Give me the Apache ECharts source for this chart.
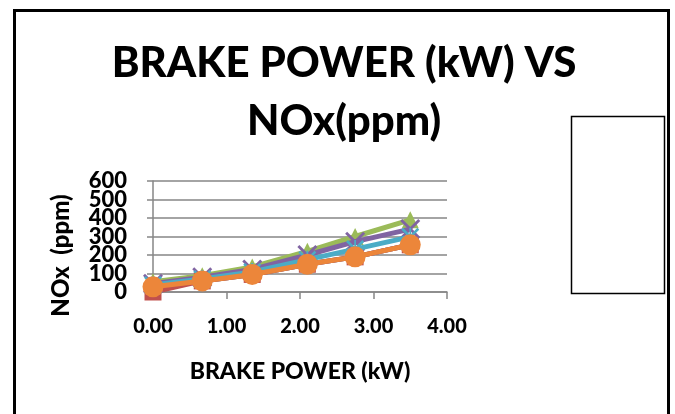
<!DOCTYPE html>
<html><head><meta charset="utf-8">
<script src="https://cdn.jsdelivr.net/npm/echarts@6/dist/echarts.min.js"></script>
<style>html,body{margin:0;padding:0;background:#fff}#c{width:675px;height:414px}</style>
</head><body><div id="c"></div>
<script>
const brakePower = [0, 0.67, 1.35, 2.1, 2.75, 3.5];
const seriesNames = ['S1', 'S2', 'S3', 'S4', 'S5', 'S6'];
const s1 = [28, 60, 95, 150, 190, 255];
const s2 = [0, 60, 95, 150, 190, 255];
const s3 = [55, 88, 135, 220, 300, 390];
const s4 = [45, 80, 122, 200, 272, 340];
const s5 = [38, 70, 108, 175, 232, 298];
const s6 = [28, 60, 95, 150, 190, 255];
const yTicks = [0, 100, 200, 300, 400, 500, 600];
const xTicks = [0, 1, 2, 3, 4];

const FONT = 'Lato';
const colors = ['#4F81BD', '#C0504D', '#9BBB59', '#8064A2', '#4BACC6', '#EC863A'];
const symbols = [
  'diamond', 'rect', 'triangle',
  'path://M2,0 L10,8 L18,0 L20,2 L12,10 L20,18 L18,20 L10,12 L2,20 L0,18 L8,10 L0,2 Z',
  'path://M2,0 L10,8 L18,0 L20,2 L12,10 L20,18 L18,20 L10,12 L2,20 L0,18 L8,10 L0,2 Z M9,0 L11,0 L11,20 L9,20 Z',
  'circle'
];
const sizes = [14, 17, 17, 20, 18, 21];
const allData = [s1, s2, s3, s4, s5, s6];

const yLabelStyle = {fontFamily: FONT, fontWeight: 900, fontSize: 22, color: '#000', margin: 26,
  showMinLabel: true, showMaxLabel: true};

const chart = echarts.init(document.getElementById('c'), null, {renderer: 'canvas'});
chart.setOption({
  animation: false,
  backgroundColor: '#fff',
  title: {
    text: 'BRAKE POWER (kW) VS\nNOx(ppm)',
    left: 339, top: 29, textAlign: 'center',
    textStyle: {fontFamily: FONT, fontWeight: 900, fontSize: 42, lineHeight: 58, color: '#000'}
  },
  grid: {left: 153, top: 181, width: 294, height: 111, containLabel: false},
  xAxis: {
    type: 'value', min: 0, max: 4, interval: 1,
    name: 'BRAKE POWER (kW)', nameLocation: 'middle', nameGap: 68,
    nameTextStyle: {fontFamily: FONT, fontWeight: 900, fontSize: 23, color: '#000'},
    axisLine: {show: true, lineStyle: {color: '#868686', width: 1.5}},
    axisTick: {show: true, inside: false, length: 7, lineStyle: {color: '#868686', width: 1.5}},
    splitLine: {show: false},
    axisLabel: {fontFamily: FONT, fontWeight: 900, fontSize: 20, color: '#000', margin: 25,
      formatter: v => v.toFixed(2)}
  },
  yAxis: [{
    type: 'value', min: 0, max: 600, interval: 100, position: 'left',
    name: 'NOx  (ppm)', nameLocation: 'middle', nameGap: 80, nameRotate: 90,
    nameTextStyle: {fontFamily: FONT, fontWeight: 900, fontSize: 24, color: '#000',
      padding: [0, 38, 0, 0]},
    axisLine: {show: true, lineStyle: {color: '#868686', width: 1.5}},
    axisTick: {show: true, inside: false, length: 6, lineStyle: {color: '#868686', width: 1.5}},
    splitLine: {show: true, lineStyle: {color: '#868686', width: 1.5}},
    axisLabel: Object.assign({}, yLabelStyle, {
      formatter: v => (yTicks.indexOf(v) % 2 === 0 ? String(v) : '')})
  }, {
    type: 'value', min: 0, max: 600, interval: 100, position: 'left', offset: 0,
    axisLine: {show: false}, axisTick: {show: false}, splitLine: {show: false},
    axisLabel: Object.assign({}, yLabelStyle, {
      formatter: v => (yTicks.indexOf(v) % 2 === 1 ? String(v) : '')})
  }],
  series: allData.map((d, i) => ({
    name: seriesNames[i], type: 'line', yAxisIndex: 0,
    data: d.map((v, j) => [brakePower[j], v]),
    symbol: symbols[i], symbolSize: sizes[i],
    lineStyle: {color: colors[i], width: 5},
    itemStyle: {color: colors[i]},
    z: 2 + i
  })),
  graphic: [
    {type: 'rect', shape: {x: 14.5, y: 10.5, width: 654, height: 420},
      style: {fill: null, stroke: '#000', lineWidth: 3}, z: 100},
    {type: 'rect', shape: {x: 571.5, y: 116.5, width: 93, height: 177},
      style: {fill: '#fff', stroke: '#000', lineWidth: 1.5}, z: 100}
  ]
});
</script></body></html>
